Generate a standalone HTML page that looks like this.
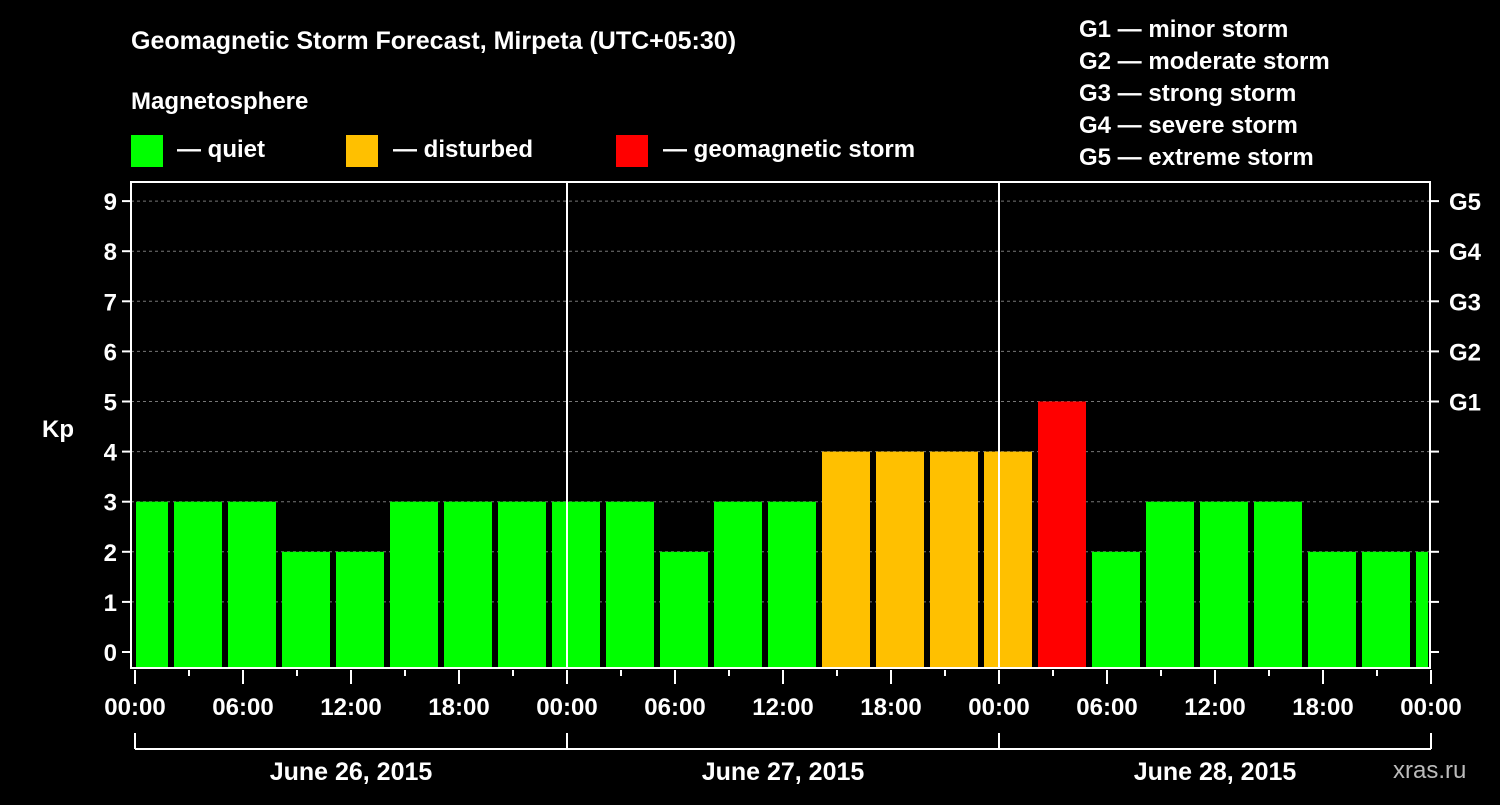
<!DOCTYPE html>
<html><head><meta charset="utf-8"><style>
html,body{margin:0;padding:0;background:#000;}
svg text{font-family:"Liberation Sans",Arial,sans-serif;font-weight:bold;fill:#fff;}
</style></head><body>
<svg id="chart" width="1500" height="800" viewBox="0 0 1500 800" xmlns="http://www.w3.org/2000/svg">
<rect x="0" y="0" width="1500" height="800" fill="#000"/>
<text x="131" y="49" font-size="25">Geomagnetic Storm Forecast, Mirpeta (UTC+05:30)</text>
<text x="131" y="109" font-size="24">Magnetosphere</text>
<rect x="131" y="135" width="32" height="32" fill="#00ff00"/>
<text x="177" y="157" font-size="24">— quiet</text>
<rect x="346" y="135" width="32" height="32" fill="#ffc000"/>
<text x="393" y="157" font-size="24">— disturbed</text>
<rect x="616" y="135" width="32" height="32" fill="#ff0000"/>
<text x="663" y="157" font-size="24">— geomagnetic storm</text>
<g font-size="24">
<text x="1079" y="37">G1 — minor storm</text>
<text x="1079" y="69">G2 — moderate storm</text>
<text x="1079" y="101">G3 — strong storm</text>
<text x="1079" y="133">G4 — severe storm</text>
<text x="1079" y="165">G5 — extreme storm</text>
</g>
<text x="42" y="437" font-size="24">Kp</text>
<text x="1393" y="778" font-size="24" style="fill:#bbb;font-weight:normal">xras.ru</text>
<g id="grid"></g><g id="bars"></g><g id="axes"></g>
</svg>
<script>
const values=[3,3,3,2,2,3,3,3,3,3,2,3,3,4,4,4,4,5,2,3,3,3,2,2,2];
const yTicks=[0,1,2,3,4,5,6,7,8,9];
const gLabels=["G1","G2","G3","G4","G5"];
const timeLabels=["00:00","06:00","12:00","18:00","00:00","06:00","12:00","18:00","00:00","06:00","12:00","18:00","00:00"];
const dayLabels=["June 26, 2015","June 27, 2015","June 28, 2015"];
const NS="http://www.w3.org/2000/svg";
const L=131,R=1430,T=182,B=668,X0=135,HOUR=18;
const y=v=>652-v*50.1;
const x=h=>X0+h*HOUR;
function mk(tag,attrs,parent,txt){const e=document.createElementNS(NS,tag);for(const k in attrs)e.setAttribute(k,attrs[k]);if(txt!==undefined)e.textContent=txt;parent.appendChild(e);return e;}
const grid=document.getElementById('grid'),bars=document.getElementById('bars'),axes=document.getElementById('axes');
yTicks.forEach(v=>{if(v>0){const l=mk('line',{x1:L,x2:R,y1:y(v),y2:y(v),stroke:'#777','stroke-dasharray':'3,3'},grid);

}});
const clip=mk('clipPath',{id:'pc'},bars);mk('rect',{x:L+5,y:T,width:R-L-7,height:B-T},clip);
values.forEach((v,i)=>{const c=v>=5?'#ff0000':(v>=4?'#ffc000':'#00ff00');
const r=mk('rect',{x:x(i*3)-15,y:y(v),width:48,height:B-y(v)-1,fill:c,'clip-path':'url(#pc)'},bars);

});
for(let d=1;d<3;d++){const l=mk('line',{x1:x(d*24),x2:x(d*24),y1:T,y2:B,stroke:'#fff','stroke-width':2},axes);

}
const fr=mk('rect',{x:L,y:T,width:R-L,height:B-T,fill:'none',stroke:'#fff','stroke-width':2},axes);


yTicks.forEach(v=>{mk('line',{x1:L-9,x2:L,y1:y(v),y2:y(v),stroke:'#fff','stroke-width':2},axes);
mk('line',{x1:R,x2:R+9,y1:y(v),y2:y(v),stroke:'#fff','stroke-width':2},axes);
const t=mk('text',{x:L-14,y:y(v)+9,'font-size':24,'text-anchor':'end'},axes,String(v));

});
gLabels.forEach((g,i)=>{const t=mk('text',{x:R+19,y:y(5+i)+9,'font-size':24},axes,g);

});
for(let h=0;h<=72;h+=3){const major=h%6===0;mk('line',{x1:x(h),x2:x(h),y1:B+2,y2:B+(major?16:8),stroke:'#fff','stroke-width':2},axes);}
timeLabels.forEach((s,i)=>{const t=mk('text',{x:x(i*6),y:715,'font-size':24,'text-anchor':'middle'},axes,s);

});
mk('line',{x1:x(0),x2:x(72),y1:749,y2:749,stroke:'#fff','stroke-width':2},axes);
for(let d=0;d<=3;d++)mk('line',{x1:x(d*24),x2:x(d*24),y1:733,y2:749,stroke:'#fff','stroke-width':2},axes);
dayLabels.forEach((s,i)=>{const t=mk('text',{x:x(i*24+12),y:780,'font-size':25,'text-anchor':'middle'},axes,s);

});
</script>
</body></html>
